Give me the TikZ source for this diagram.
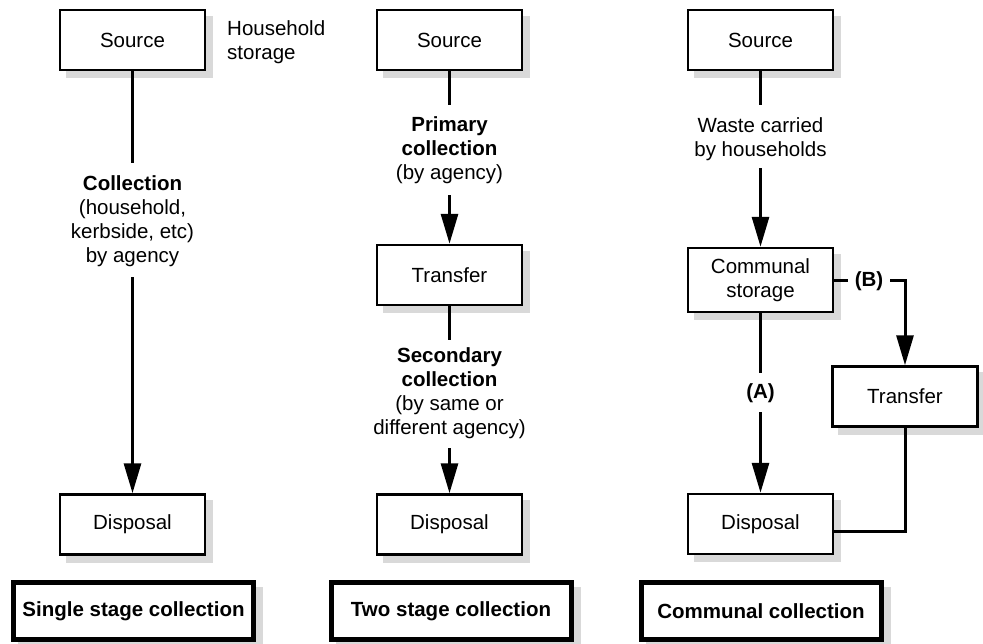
\documentclass[tikz,border=0pt]{standalone}
\usepackage{fontspec}
\setmainfont{Liberation Sans}
\usetikzlibrary{arrows.meta,backgrounds}
\definecolor{shadowgray}{HTML}{D9D9D9}
\newcommand\shadowof[1]{\fill[shadowgray] ([shift={(7,7)}]#1.south west) rectangle ([shift={(7,7)}]#1.north east);}
\begin{document}
\begin{tikzpicture}[x=1pt,y=-1pt,
  txt/.style={font=\fontsize{20.5}{24}\selectfont, inner sep=0pt, align=center},
  box/.style={draw, line width=2.5pt, fill=white, minimum width=145pt, minimum height=60pt, inner sep=0pt, txt},
  titlebox/.style={draw, line width=5pt, fill=white, minimum width=240pt, minimum height=57pt, inner sep=0pt,
    font=\fontsize{20.5}{24}\selectfont\bfseries},
  ln/.style={line width=3pt},
  arr/.style={line width=3pt, -{Triangle[length=30pt,width=17pt]}}
]
\useasboundingbox (0,0) rectangle (983,643);

% ---------- Column 1 ----------
\node[box] (s1) at (132.5,40) {Source};
\node[txt, anchor=west, align=left] (hs) at (227,42) {Household\\storage};
\node[txt] (c1) at (132.5,221) {\textbf{Collection}\\(household,\\kerbside, etc)\\by agency};
\coordinate (c1a) at (132.5,163);
\coordinate (c1b) at (132.5,277);
\node[box] (d1) at (132.5,524.5) {Disposal};
\draw[ln] (s1.south) -- (c1a);
\draw[arr] (c1b) -- (d1.north);
\node[titlebox] (t1) at (133.5,611) {Single stage collection};

% ---------- Column 2 ----------
\node[box] (s2) at (449.5,40) {Source};
\node[txt] (p2) at (449.5,150) {\textbf{Primary}\\\textbf{collection}\\(by agency)};
\coordinate (p2a) at (449.5,105);
\coordinate (p2b) at (449.5,195);
\node[box] (tr2) at (449.5,275) {Transfer};
\node[txt] (q2) at (449.5,393) {\textbf{Secondary}\\\textbf{collection}\\(by same or\\different agency)};
\coordinate (q2a) at (449.5,340);
\coordinate (q2b) at (449.5,448);
\node[box] (d2) at (449.5,524.5) {Disposal};
\draw[ln] (s2.south) -- (p2a);
\draw[arr] (p2b) -- (tr2.north);
\draw[ln] (tr2.south) -- (q2a);
\draw[arr] (q2b) -- (d2.north);
\node[titlebox] (t2) at (451,611) {Two stage collection};

% ---------- Column 3 ----------
\node[box] (s3) at (760.5,40) {Source};
\node[txt] (w3) at (760.5,139) {Waste carried\\by households};
\coordinate (w3a) at (760.5,105);
\coordinate (w3b) at (760.5,168);
\node[box, minimum height=64pt] (cs3) at (760.5,280) {Communal\\storage};
\node[txt, font=\fontsize{20.5}{24}\selectfont\bfseries] (a3) at (760.5,393) {(A)};
\coordinate (a3a) at (760.5,373);
\coordinate (a3b) at (760.5,412);
\node[box] (d3) at (760.5,524) {Disposal};
\node[txt, font=\fontsize{20.5}{24}\selectfont\bfseries] (b3) at (869,281) {(B)};
\coordinate (b3a) at (848,280);
\coordinate (b3b) at (890,280);
\node[box] (tr3) at (905,396.5) {Transfer};
\draw[ln] (s3.south) -- (w3a);
\draw[arr] (w3b) -- (cs3.north);
\draw[ln] (cs3.south) -- (a3a);
\draw[arr] (a3b) -- (d3.north);
\draw[ln] (cs3.east |- b3a) -- (b3a);
\draw[arr, line join=miter] (b3b) -| (tr3.north);
\draw[ln, line join=miter] (tr3.south) |- ([yshift=-7pt]d3.east);
\node[titlebox] (t3) at (761,611) {Communal collection};

% ---------- shadows ----------
\begin{scope}[on background layer]
  \fill[white] (0,0) rectangle (983,643);
  \shadowof{s1}\shadowof{d1}\shadowof{t1}
  \shadowof{s2}\shadowof{tr2}\shadowof{d2}\shadowof{t2}
  \shadowof{s3}\shadowof{cs3}\shadowof{d3}\shadowof{tr3}\shadowof{t3}
\end{scope}
\end{tikzpicture}
\end{document}
